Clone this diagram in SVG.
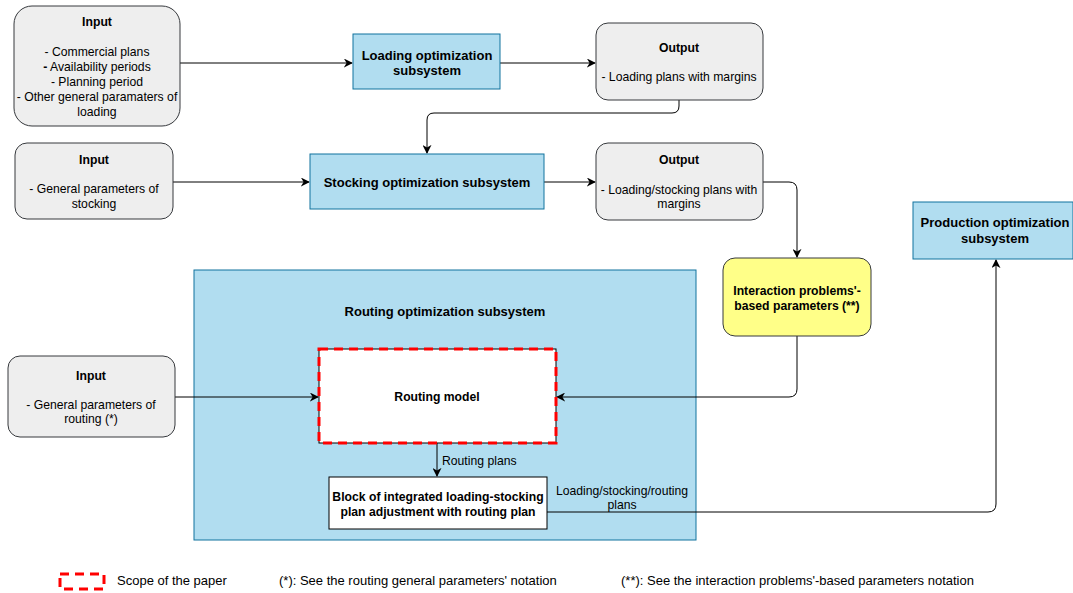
<svg xmlns="http://www.w3.org/2000/svg" width="1073" height="593" viewBox="0 0 1073 593">
  <style>
    text { font-family: "Liberation Sans", Arial, sans-serif; font-size: 12.2px; fill: #000; text-anchor: middle; }
    .b { font-weight: bold; }
    .t { font-weight: bold; font-size: 13px; }
    .l { text-anchor: start; }
    .leg { font-size: 13px; text-anchor: start; }
    .gray { fill: #eeeeee; stroke: #36393d; stroke-width: 1; }
    .blue { fill: #b1ddf0; stroke: #10739e; stroke-width: 1; }
    .yellow { fill: #ffff88; stroke: #36393d; stroke-width: 1; }
    .white { fill: #ffffff; stroke: #000; stroke-width: 1; }
    .conn { fill: none; stroke: #000; stroke-width: 1; marker-end: url(#arrow); }
    .scope { fill: none; stroke: #ff0000; stroke-width: 3; stroke-dasharray: 9 6; }
  </style>
  <defs>
    <marker id="arrow" viewBox="0 0 10 10" refX="9" refY="5" markerWidth="9" markerHeight="9" markerUnits="userSpaceOnUse" orient="auto">
      <path d="M0,0 L10,5 L0,10 L3,5 Z" fill="#000"/>
    </marker>
  </defs>
  <rect width="1073" height="593" fill="#ffffff"/>

  <!-- routing subsystem container -->
  <g id="routing-subsystem">
    <rect class="blue" x="194" y="270" width="502" height="270"/>
    <text class="t" x="445" y="316">Routing optimization subsystem</text>
  </g>

  <g id="connectors">
    <path class="conn" d="M180,63 H352"/>
    <path class="conn" d="M500,63 H595"/>
    <path class="conn" d="M679,100 V106 Q679,113 672,113 H434 Q427,113 427,120 V153"/>
    <path class="conn" d="M173,182 H309"/>
    <path class="conn" d="M544,182 H595"/>
    <path class="conn" d="M763,182 H789 Q797,182 797,190 V257"/>
    <path class="conn" d="M175,397 H318"/>
    <path class="conn" d="M797,336 V389 Q797,397 789,397 H557"/>
    <path class="conn" d="M437,443 V476"/>
    <path class="conn" d="M547,512 H988 Q996,512 996,504 V260"/>
    <text class="l" x="442" y="465">Routing plans</text>
    <text x="622" y="495">Loading/stocking/routing</text>
    <text x="622" y="509">plans</text>
  </g>

  <g id="input-loading">
    <rect class="gray" x="14" y="6" width="166" height="120" rx="18"/>
    <text class="b" x="97" y="26">Input</text>
    <text x="97" y="56">- Commercial plans</text>
    <text x="97" y="71"><tspan font-weight="bold">-</tspan> Availability periods</text>
    <text x="97" y="86">- Planning period</text>
    <text x="97" y="101">- Other general paramaters of</text>
    <text x="97" y="116">loading</text>
  </g>

  <g id="loading-subsystem">
    <rect class="blue" x="353" y="34" width="147" height="55"/>
    <text class="t" x="427" y="60">Loading optimization</text>
    <text class="t" x="427" y="75">subsystem</text>
  </g>

  <g id="output-loading">
    <rect class="gray" x="596" y="23" width="167" height="77" rx="12"/>
    <text class="b" x="679" y="52">Output</text>
    <text x="679" y="81">- Loading plans with margins</text>
  </g>

  <g id="input-stocking">
    <rect class="gray" x="15" y="143" width="158" height="76" rx="12"/>
    <text class="b" x="94" y="164">Input</text>
    <text x="94" y="193">- General parameters of</text>
    <text x="94" y="208">stocking</text>
  </g>

  <g id="stocking-subsystem">
    <rect class="blue" x="310" y="154" width="234" height="55"/>
    <text class="t" x="427" y="187">Stocking optimization subsystem</text>
  </g>

  <g id="output-stocking">
    <rect class="gray" x="596" y="143" width="167" height="77" rx="12"/>
    <text class="b" x="679" y="164">Output</text>
    <text x="679" y="194">- Loading/stocking plans with</text>
    <text x="679" y="208">margins</text>
  </g>

  <g id="interaction-parameters">
    <rect class="yellow" x="723" y="258" width="148" height="78" rx="12"/>
    <text class="b" x="797" y="295">Interaction problems'-</text>
    <text class="b" x="797" y="310">based parameters (**)</text>
  </g>

  <g id="production-subsystem">
    <rect class="blue" x="913" y="202" width="160" height="57"/>
    <text class="t" x="995" y="227">Production optimization</text>
    <text class="t" x="995" y="243">subsystem</text>
  </g>

  <g id="input-routing">
    <rect class="gray" x="8" y="356" width="167" height="81" rx="12"/>
    <text class="b" x="91" y="380">Input</text>
    <text x="91" y="409">- General parameters of</text>
    <text x="91" y="423">routing (*)</text>
  </g>

  <g id="routing-model">
    <rect class="white" x="319" y="349" width="237" height="94" stroke="#36393d"/>
    <rect class="scope" x="319" y="349" width="237" height="94"/>
    <text class="b" x="437" y="401">Routing model</text>
  </g>

  <g id="adjustment-block">
    <rect class="white" x="329" y="477" width="218" height="52"/>
    <text class="b" x="438" y="501">Block of integrated loading-stocking</text>
    <text class="b" x="438" y="516">plan adjustment with routing plan</text>
  </g>

  <g id="legend">
    <rect class="scope" x="60" y="574" width="44" height="15"/>
    <text class="leg" x="117" y="585">Scope of the paper</text>
    <text class="leg" x="279" y="585">(*): See the routing general parameters' notation</text>
    <text class="leg" x="621" y="585">(**): See the interaction problems'-based parameters notation</text>
  </g>
</svg>
